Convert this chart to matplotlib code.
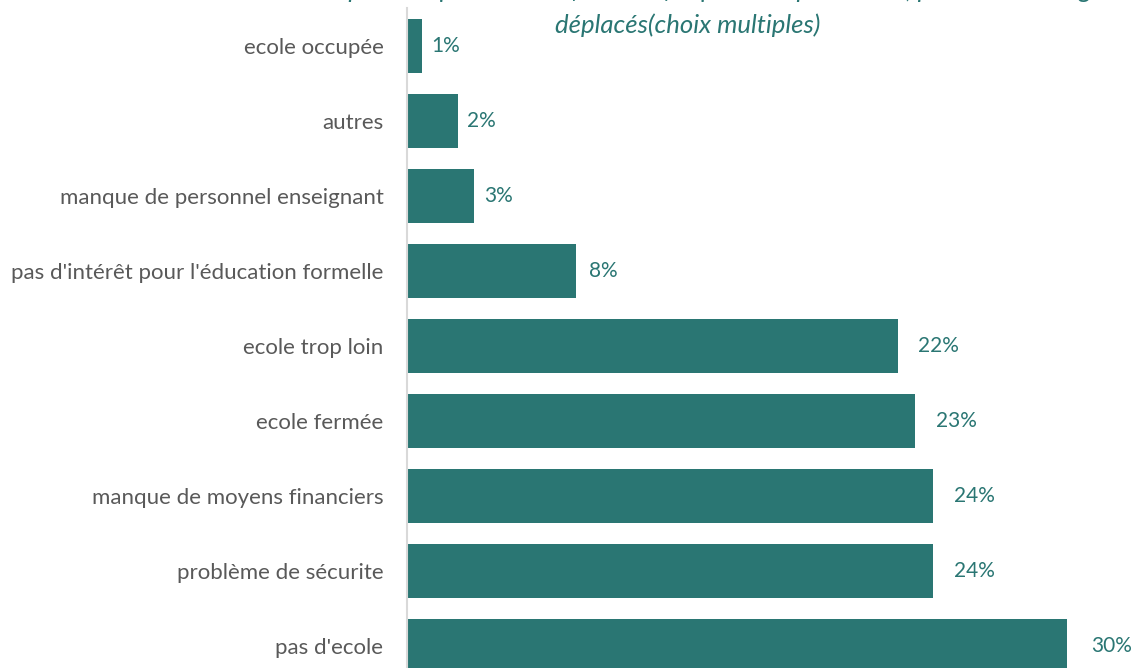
import matplotlib
matplotlib.use("Agg")
import matplotlib.pyplot as plt

categories = [
    "ecole occupée",
    "autres",
    "manque de personnel enseignant",
    "pas d'intérêt pour l'éducation formelle",
    "ecole trop loin",
    "ecole fermée",
    "manque de moyens financiers",
    "problème de sécurite",
    "pas d'ecole",
]
values = [0.7, 2.3, 3.05, 7.7, 22.3, 23.1, 23.9, 23.9, 30.0]

title_line1 = "Raisons pour lesquelles les enfants ne fréquentent pas l'école, parmi les ménages"
title_line2 = "déplacés(choix multiples)"

bar_color = "#2a7673"
label_color = "#595959"
fam = ["Lato", "DejaVu Sans"]

W, H = 1135, 668
fig = plt.figure(figsize=(W / 100, H / 100), dpi=100)
left_px, right_px = 407, 407 + 33 * 22
top_px, bottom_px = 8, 683.5
ax = fig.add_axes([left_px / W, 1 - bottom_px / H, (right_px - left_px) / W, (bottom_px - top_px) / H])

y = list(range(len(categories)))
ax.barh(y, values, height=0.72, color=bar_color)
ax.set_xlim(0, 33)
ax.set_ylim(len(categories) - 0.5, -0.5)
ax.set_yticks(y)
ax.set_yticklabels(categories, fontsize=16, color=label_color, family=fam)
ax.tick_params(axis="y", length=0, pad=17)
ax.set_xticks([])
for s in ["top", "right", "bottom"]:
    ax.spines[s].set_visible(False)
ax.spines["left"].set_color("#d9d9d9")
ax.spines["left"].set_linewidth(1.5)

for yi, v in zip(y, values):
    ax.annotate(f"{v:.0f}%", xy=(v, yi), xytext=((8 + 0.55 * v) / 1.389, 0), textcoords="offset points",
                ha="left", va="center", fontsize=15, color=bar_color, family=fam)

fig.text(688 / W, 1 - 25 / H, title_line2, ha="center", va="center", fontsize=18.5,
         style="italic", color=bar_color, family=fam)
fig.text(688 / W, 1 + 10 / H, title_line1, ha="center", va="center", fontsize=18.5,
         style="italic", color=bar_color, family=fam)

fig.savefig("out.png", dpi=100)
